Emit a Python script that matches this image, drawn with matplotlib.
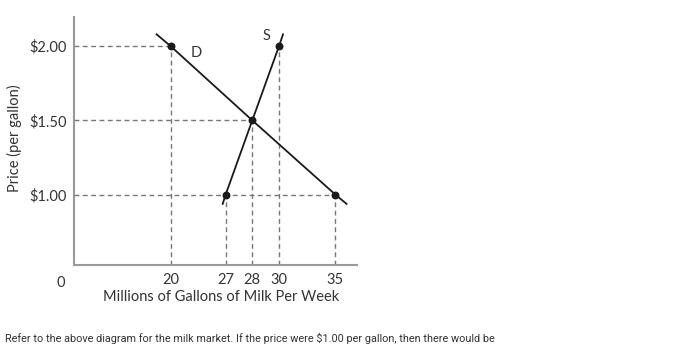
import numpy as np
import matplotlib
matplotlib.use("Agg")
from matplotlib import pyplot as plt

plt.rcParams['font.family'] = ['Lato', 'DejaVu Sans']

# quantities (millions of gallons) and prices ($)
x_ticks = [20, 27, 28, 30, 35]
y_ticks = [1.00, 1.50, 2.00]
y_tick_labels = ["$1.00", "$1.50", "$2.00"]

# demand curve: line ends plus marked points
demand_q = [17.1, 20, 28, 35, 36.0]
demand_p = [2.08, 2.00, 1.50, 1.00, 0.937]
# supply curve
supply_q = [26.62, 27, 28, 30, 30.36]
supply_p = [0.937, 1.00, 1.50, 2.00, 2.08]

# marked points
point_q = [20, 30, 28, 27, 35]
point_p = [2.00, 2.00, 1.50, 1.00, 1.00]

# dashed guide lines: (price, quantity reached)
h_guides = [(2.00, 20), (1.50, 28), (1.00, 35)]
v_guides = [(20, 2.00), (27, 1.00), (28, 1.50), (30, 2.00), (35, 1.00)]

# the original drawing is not to scale on the x axis
knot_val = np.array([0, 20, 27, 28, 30, 35, 40])
knot_pos = np.array([0, 97, 152, 178.6, 205.3, 261.6, 317.9])


def fwd(v):
    return np.interp(v, knot_val, knot_pos)


def inv(p):
    return np.interp(p, knot_pos, knot_val)


fig = plt.figure(figsize=(6.93, 3.64), dpi=100)
ax = fig.add_axes([0.1063, 0.272, 0.4084, 0.681])
ax.set_xscale('function', functions=(fwd, inv))
ax.set_xlim(0, 36.9)
ax.set_ylim(0.525, 2.196)

dash = dict(color="#777777", lw=1.0, ls=(0, (3.5, 2.5)), zorder=1)
for p, q in h_guides:
    ax.plot([0, q], [p, p], **dash)
for q, p in v_guides:
    ax.plot([q, q], [0.525, p], **dash)

ax.plot(demand_q, demand_p, color="#1a1a1a", lw=1.3, zorder=2)
ax.plot(supply_q, supply_p, color="#1a1a1a", lw=1.3, zorder=2)
ax.scatter(point_q, point_p, s=22, color="#1a1a1a", zorder=3)

ax.text(23.2, 1.953, "D", fontsize=10.5, color="#333333", ha="center", va="center")
ax.text(29.03, 2.068, "S", fontsize=10.5, color="#333333", ha="center", va="center")

for side in ["top", "right"]:
    ax.spines[side].set_visible(False)
for side in ["left", "bottom"]:
    ax.spines[side].set_color("#999999")
    ax.spines[side].set_linewidth(1.5)

ax.set_xticks(x_ticks)
ax.set_xticklabels([str(t) for t in x_ticks])
ax.set_yticks(y_ticks)
ax.set_yticklabels(y_tick_labels)
ax.tick_params(length=0, labelsize=10.5, colors="#333333")
ax.tick_params(axis="x", pad=6)
ax.tick_params(axis="y", pad=5)
ax.annotate("0", (0, 0.525), xytext=(-9, -13), textcoords="offset points",
            ha="center", va="center", fontsize=10.5, color="#333333")

ax.text(0.52, -0.13, "Millions of Gallons of Milk Per Week", transform=ax.transAxes,
        ha="center", va="center", fontsize=10.5, color="#333333")
fig.text(0.0205, 0.62, "Price (per gallon)", rotation=90, ha="center", va="center",
         fontsize=10.5, color="#333333")

fig.text(0.007, 0.071, "Refer to the above diagram for the milk market. If the price were $1.00 per gallon, then there would be",
         ha="left", va="center", fontsize=7.85, color="#333333", family=["Roboto", "DejaVu Sans"])

plt.savefig("out.png", dpi=100)
